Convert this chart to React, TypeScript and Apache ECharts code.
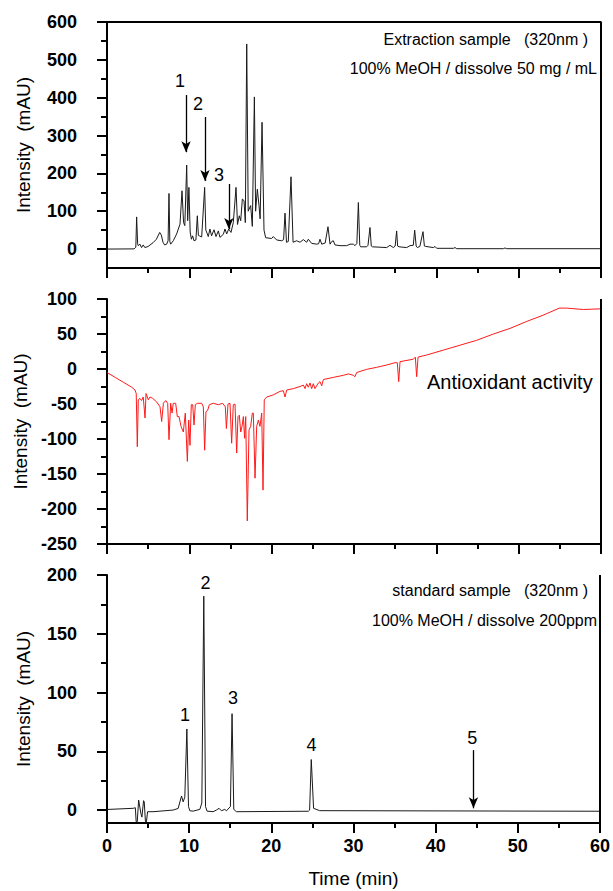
import React, { useEffect, useRef } from 'react';
import * as echarts from 'echarts';

const FONT = '"Liberation Sans", Arial, Helvetica, sans-serif';

// ---- data ----
const timeTicks = [0, 10, 20, 30, 40, 50, 60];

const extractionTrace: [number, number][] = [
  [0, 0], [3.3, 0.5], [3.5, 5], [3.6, 85], [3.72, 14], [3.8, 9], [4.0, 13], [4.2, 4], [4.4, 11], [4.6, 4],
  [5.0, 7], [5.6, 17], [6.0, 26], [6.4, 44], [6.6, 37], [6.8, 18], [7.0, 11], [7.25, 13], [7.42, 22],
  [7.53, 147], [7.63, 20], [7.73, 13], [8.05, 22], [8.46, 40], [8.87, 66], [9.11, 154], [9.3, 70],
  [9.45, 62], [9.68, 222], [9.8, 75], [9.95, 163], [10.1, 45], [10.25, 26], [10.4, 35], [10.57, 22],
  [10.8, 24], [10.97, 88], [11.1, 36], [11.21, 35], [11.5, 32], [11.86, 163], [12.0, 50], [12.1, 45],
  [12.3, 33], [12.5, 53], [12.7, 35], [13.0, 51], [13.24, 33], [13.52, 48], [13.72, 31], [14.13, 39],
  [14.33, 53], [14.54, 40], [14.78, 53], [15.06, 44], [15.34, 70], [15.67, 163], [15.85, 65], [16.07, 88],
  [16.24, 75], [16.44, 132], [16.64, 128], [16.8, 70], [16.97, 542], [17.15, 100], [17.45, 115],
  [17.65, 60], [17.9, 402], [18.05, 100], [18.26, 158], [18.46, 115], [18.6, 80], [18.83, 335],
  [19.07, 50], [19.27, 30], [20.0, 28], [20.2, 33], [20.61, 24], [21.22, 22], [21.45, 25], [21.62, 95],
  [21.8, 18], [22.02, 20], [22.35, 191], [22.6, 18], [23.04, 22], [23.44, 18], [23.85, 25], [24.25, 18],
  [24.45, 26], [24.86, 15], [25.47, 13], [25.7, 14], [25.87, 26], [26.08, 13], [26.5, 16], [26.84, 59],
  [27.09, 13], [27.3, 20], [27.49, 22], [27.69, 11], [28.3, 9], [29.11, 9], [29.52, 13], [29.92, 13],
  [30.12, 9], [30.35, 15], [30.53, 123], [30.7, 10], [30.81, 6], [31.54, 6], [31.7, 10], [31.94, 57],
  [32.1, 8], [32.23, 6], [33.97, 4], [34.37, 10], [34.78, 4], [35.0, 8], [35.18, 48], [35.3, 8],
  [35.47, 6], [36.4, 4], [36.8, 9], [37.2, 10], [37.37, 50], [37.55, 8], [37.7, 4], [38.0, 7],
  [38.38, 46], [38.55, 8], [38.71, 7], [39.64, 4], [39.84, 7], [40.05, 2], [42.07, 2], [42.27, 4],
  [42.48, 1], [48.14, 1], [48.34, 3], [48.55, 1], [60, 1],
];

const antioxidantTrace: [number, number][] = [
  [0, -5], [1.0, -12], [2.0, -19], [3.0, -26], [3.4, -30], [3.55, -35], [3.68, -111], [3.8, -44],
  [4.0, -42], [4.2, -45], [4.4, -40], [4.62, -70], [4.74, -35], [5.02, -44], [5.22, -40], [5.55, -42],
  [6.03, -47], [6.44, -54], [6.64, -75], [6.85, -49], [7.13, -45], [7.37, -49], [7.53, -101], [7.73, -49],
  [7.9, -63], [8.05, -49], [8.34, -49], [8.54, -68], [8.75, -68], [8.99, -82], [9.27, -90], [9.51, -63],
  [9.76, -132], [9.92, -73], [10.08, -109], [10.24, -51], [10.41, -51], [10.57, -80], [10.73, -51],
  [10.97, -49], [11.5, -49], [11.7, -54], [11.86, -116], [12.02, -61], [12.23, -59], [12.43, -51],
  [12.91, -49], [13.52, -51], [14.05, -49], [14.37, -54], [14.5, -85], [14.7, -50], [14.94, -49],
  [15.14, -106], [15.34, -51], [15.55, -50], [15.75, -120], [15.91, -68], [16.07, -66], [16.24, -90],
  [16.4, -82], [16.56, -68], [16.72, -99], [16.85, -68], [17.04, -217], [17.25, -87], [17.45, -82],
  [17.65, -63], [17.77, -63], [17.98, -156], [18.18, -82], [18.38, -73], [18.58, -82], [18.79, -63],
  [18.95, -173], [19.1, -44], [19.4, -40], [20.2, -37], [21.0, -32], [21.42, -31], [21.62, -40],
  [21.83, -30], [22.63, -28], [23.44, -25], [23.85, -23], [24.05, -28], [24.25, -21], [24.45, -26],
  [24.66, -20], [24.86, -28], [25.06, -21], [25.26, -28], [25.67, -20], [25.87, -18], [26.08, -24],
  [26.28, -15], [27.49, -12], [28.71, -9], [29.32, -7], [29.92, -9], [30.12, -11], [30.33, -5],
  [31.54, -0.5], [32.76, 2.4], [33.97, 5.7], [34.98, 9], [35.26, 9], [35.43, -18], [35.59, 10.5],
  [37.21, 14], [37.45, 17], [37.61, -11], [37.78, 17], [38.83, 20], [40.85, 27], [42.88, 34],
  [44.9, 41], [46.93, 50], [48.95, 58], [50.98, 68], [53.0, 77], [54.94, 87], [55.83, 87],
  [57.85, 85], [60, 86],
];

const standardTrace: [number, number][] = [
  [0, 0.5], [3.2, 1.5], [3.45, 2], [3.55, -10], [3.68, -10], [3.85, 8.5], [3.93, 8.5], [4.13, -3],
  [4.25, -6], [4.45, 8], [4.53, 7], [4.68, -10], [4.8, -10], [4.94, -1.4], [5.6, -1.4], [8.05, 0],
  [8.66, 1.4], [9.07, 12], [9.27, 7], [9.47, 11], [9.72, 69], [9.92, 3], [10.08, -0.6], [10.48, -0.9],
  [11.3, 0.6], [11.54, 6], [11.78, 182], [11.99, 3], [12.18, -0.9], [12.91, -1.4], [13.32, 0],
  [13.64, 1.5], [13.93, -0.6], [14.33, 0.6], [14.54, -0.6], [15.02, 3], [15.22, 82], [15.43, 0.6],
  [15.75, -1.4], [24.5, -1], [24.66, 0], [24.86, 43], [25.14, 1.5], [25.87, -0.5], [60, -1],
];

// axis ranges
const TIME_MIN = 0;
const TIME_MAX = 60;
const EXTRACTION_RANGE = [-50, 600];
const ANTIOX_RANGE = [-250, 100];
const STANDARD_RANGE = [-11, 200];

const extractionMajorTicks = [0, 100, 200, 300, 400, 500, 600];
const extractionMinorTicks = [50, 150, 250, 350, 450, 550];
const standardMajorTicks = [0, 50, 100, 150, 200];
const standardMinorTicks = [25, 75, 125, 175];

const extractionArrows = [
  { t: 9.6, from: 407, to: 256 },
  { t: 11.9, from: 349, to: 180 },
  { t: 14.8, from: 172, to: 53 },
];
const extractionPeakLabels = [
  { name: '1', t: 8.87, v: 444 },
  { name: '2', t: 11.05, v: 383 },
  { name: '3', t: 13.6, v: 196 },
];
const standardArrows = [{ t: 44.6, from: 51, to: 1.5 }];
const standardPeakLabels = [
  { name: '1', t: 9.5, v: 81 },
  { name: '2', t: 12.0, v: 193 },
  { name: '3', t: 15.34, v: 95 },
  { name: '4', t: 24.9, v: 55 },
  { name: '5', t: 44.45, v: 61 },
];

// ---- layout (pixels) ----
const PLOT_LEFT = 107;
const PLOT_RIGHT = 601;
const PANELS = [
  { top: 22, bottom: 268 },
  { top: 299, bottom: 544 },
  { top: 575, bottom: 823 },
];

// ---- helpers ----
const AX = { color: '#000', width: 2 };
const labelStyle = { fontSize: 18, fontWeight: 'bold' as const, color: '#000', fontFamily: FONT };
const nameStyle = { fontSize: 19, color: '#000', fontFamily: FONT };

function timeAxis(gridIndex: number, showLabels: boolean): any {
  return {
    type: 'value', gridIndex, min: TIME_MIN, max: TIME_MAX, interval: 10, position: 'bottom',
    axisLine: { show: true, onZero: false, lineStyle: AX },
    axisTick: { show: true, length: 10, lineStyle: AX },
    minorTick: { show: true, splitNumber: 2, length: 5, lineStyle: AX },
    axisLabel: { show: showLabels, margin: 14, ...labelStyle, customValues: timeTicks },
    splitLine: { show: false },
    ...(showLabels ? { name: 'Time (min)', nameLocation: 'middle', nameGap: 46, nameTextStyle: nameStyle } : {}),
  };
}

function minorY(gridIndex: number, range: number[], ticks: number[]): any {
  return {
    type: 'value', gridIndex, min: range[0], max: range[1], position: 'left',
    axisLine: { show: false, onZero: false },
    axisTick: { show: true, length: 6, lineStyle: AX, customValues: ticks },
    axisLabel: { show: false }, splitLine: { show: false },
  };
}

function arrowsLine(arrows: { t: number; from: number; to: number }[]): any {
  return {
    silent: true,
    symbol: ['none', 'arrow'],
    symbolSize: [7, 11],
    lineStyle: { color: '#000', width: 1.3, type: 'solid' },
    label: { show: false },
    emphasis: { disabled: true },
    data: arrows.map((a) => [{ coord: [a.t, a.from] }, { coord: [a.t, a.to] }]),
  };
}

function peakLabels(labels: { name: string; t: number; v: number }[]): any {
  return {
    silent: true,
    symbol: 'circle',
    symbolSize: 1,
    itemStyle: { color: 'rgba(0,0,0,0)' },
    label: { show: true, position: 'inside', formatter: '{b}', fontSize: 18, color: '#000', fontFamily: FONT },
    data: labels.map((l) => ({ name: l.name, coord: [l.t, l.v] })),
  };
}

// frame edge drawn as an unclipped line series on the panel's axes
function frameSeries(xAxisIndex: number, yAxisIndex: number, pts: number[][]): any {
  return {
    type: 'line', xAxisIndex, yAxisIndex, data: pts, silent: true, clip: false,
    showSymbol: false, symbol: 'none', z: 5,
    lineStyle: { color: '#000', width: 2 },
    emphasis: { disabled: true },
  };
}

function txt(x: number, y: number, text: string, size: number, align: string): any {
  return {
    type: 'text', x, y, silent: true,
    style: {
      text, font: `${size}px ${FONT}`, fill: '#000',
      textAlign: align, align, textVerticalAlign: 'middle', verticalAlign: 'middle',
    },
  };
}

export default function App() {
  const ref = useRef<HTMLDivElement>(null);
  useEffect(() => {
    if (!ref.current) return;
    const chart = echarts.init(ref.current, null, { renderer: 'svg' });
    const option: any = {
      animation: false,
      backgroundColor: '#fff',
      textStyle: { fontFamily: FONT },
      grid: PANELS.map((p) => ({
        left: PLOT_LEFT, right: 613 - PLOT_RIGHT, top: p.top, height: p.bottom - p.top,
      })),
      xAxis: [timeAxis(0, false), timeAxis(1, false), timeAxis(2, true)],
      yAxis: [
        {
          type: 'value', gridIndex: 0, min: EXTRACTION_RANGE[0], max: EXTRACTION_RANGE[1], position: 'left',
          axisLine: { show: true, onZero: false, lineStyle: AX },
          axisTick: { show: true, length: 10, lineStyle: AX, customValues: extractionMajorTicks },
          axisLabel: { show: true, margin: 30, ...labelStyle, customValues: extractionMajorTicks },
          splitLine: { show: false },
          name: 'Intensity  (mAU)', nameLocation: 'middle', nameGap: 74, nameTextStyle: nameStyle,
        },
        minorY(0, EXTRACTION_RANGE, extractionMinorTicks),
        {
          type: 'value', gridIndex: 1, min: ANTIOX_RANGE[0], max: ANTIOX_RANGE[1], interval: 50, position: 'left',
          axisLine: { show: true, onZero: false, lineStyle: AX },
          axisTick: { show: true, length: 10, lineStyle: AX },
          minorTick: { show: true, splitNumber: 2, length: 6, lineStyle: AX },
          axisLabel: { show: true, margin: 30, ...labelStyle },
          splitLine: { show: false },
          name: 'Intensity  (mAU)', nameLocation: 'middle', nameGap: 74, nameTextStyle: nameStyle,
        },
        {
          type: 'value', gridIndex: 2, min: STANDARD_RANGE[0], max: STANDARD_RANGE[1], position: 'left',
          axisLine: { show: true, onZero: false, lineStyle: AX },
          axisTick: { show: true, length: 10, lineStyle: AX, customValues: standardMajorTicks },
          axisLabel: { show: true, margin: 30, ...labelStyle, customValues: standardMajorTicks },
          splitLine: { show: false },
          name: 'Intensity  (mAU)', nameLocation: 'middle', nameGap: 74, nameTextStyle: nameStyle,
        },
        minorY(2, STANDARD_RANGE, standardMinorTicks),
      ],
      series: [
        {
          type: 'line', xAxisIndex: 0, yAxisIndex: 0, data: extractionTrace,
          showSymbol: false, symbol: 'none', lineStyle: { color: '#1a1a1a', width: 1 },
          markLine: arrowsLine(extractionArrows),
          markPoint: peakLabels(extractionPeakLabels),
        },
        {
          type: 'line', xAxisIndex: 1, yAxisIndex: 2, data: antioxidantTrace,
          showSymbol: false, symbol: 'none', lineStyle: { color: '#ff1a1a', width: 1 },
        },
        {
          type: 'line', xAxisIndex: 2, yAxisIndex: 3, data: standardTrace,
          showSymbol: false, symbol: 'none', lineStyle: { color: '#1a1a1a', width: 1 },
          markLine: arrowsLine(standardArrows),
          markPoint: peakLabels(standardPeakLabels),
        },
        // frame: top + right edges of the top panel, right edges of the others
        frameSeries(0, 1, [
          [TIME_MIN, EXTRACTION_RANGE[1]], [TIME_MAX, EXTRACTION_RANGE[1]], [TIME_MAX, EXTRACTION_RANGE[0]],
        ]),
        frameSeries(1, 2, [[TIME_MAX, ANTIOX_RANGE[1]], [TIME_MAX, ANTIOX_RANGE[0]]]),
        frameSeries(2, 4, [[TIME_MAX, STANDARD_RANGE[1]], [TIME_MAX, STANDARD_RANGE[0]]]),
      ],
      graphic: [
        txt(588, 39, 'Extraction sample   (320nm )', 16, 'right'),
        txt(597, 68, '100% MeOH / dissolve 50 mg / mL', 16, 'right'),
        txt(427, 382, 'Antioxidant activity', 20, 'left'),
        txt(588, 590, 'standard sample   (320nm )', 16, 'right'),
        txt(597, 620, '100% MeOH / dissolve 200ppm', 16, 'right'),
      ],
    };
    chart.setOption(option);
    return () => chart.dispose();
  }, []);
  return (
    <div
      ref={ref}
      style={{ position: 'absolute', left: 0, top: 0, width: 613, height: 891, background: '#fff' }}
    />
  );
}
